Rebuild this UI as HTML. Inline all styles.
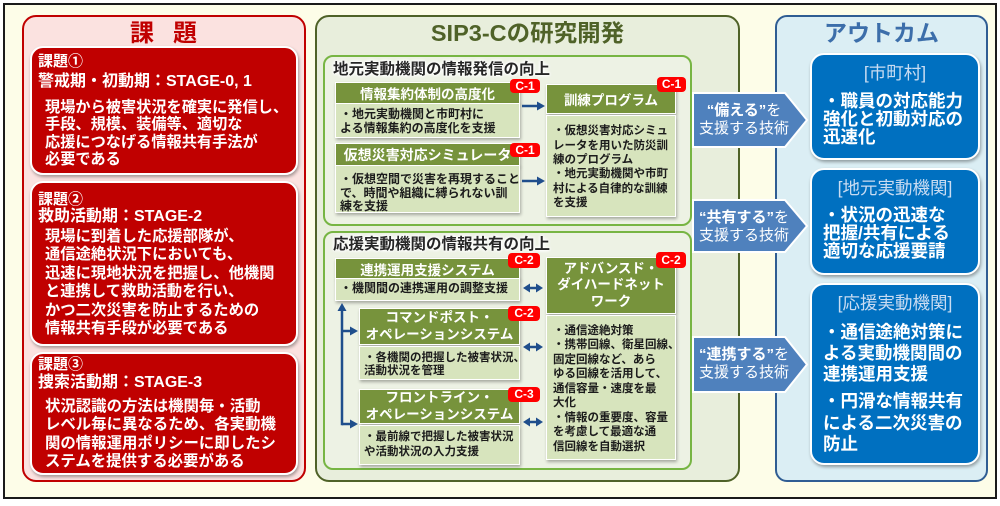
<!DOCTYPE html>
<html><head><meta charset="utf-8">
<style>
*{margin:0;padding:0;box-sizing:border-box}
body{width:1000px;height:506px;background:#fff;position:relative;overflow:hidden;font-family:"Liberation Sans","Noto Sans CJK JP",sans-serif;font-weight:bold}
.a{position:absolute}
.t{position:absolute;white-space:nowrap}
#outer{left:3px;top:3px;width:994px;height:496px;border:2px solid #1a1a1a;background:#fdfde8}
#lp{left:22px;top:15px;width:284px;height:467px;border:2px solid #c00000;border-radius:14px;background:#fbe2e0}
.rb{position:absolute;left:30px;width:268px;background:#c00000;border:2px solid #fff;border-radius:13px;box-shadow:1px 2px 3px rgba(0,0,0,.35)}
.rt{position:absolute;white-space:nowrap;color:#fff}
#mp{left:315px;top:15px;width:425px;height:467px;border:2px solid #4f6228;border-radius:14px;background:#e8eedc}
.sp{position:absolute;left:323px;width:369px;border:2.5px solid #77b543;border-radius:10px;background:#edf2e4}
.lbl{position:absolute;white-space:nowrap;font-size:15.5px;line-height:20px;color:#262626;text-shadow:0 0 2px #fff,0 0 3px #fff,0 0 4px #fff,0 0 4px #fff}
.gh{position:absolute;background:#77933c;border:1.5px solid #fff;color:#fff;font-size:13.5px;display:flex;align-items:center;justify-content:center;text-align:center;white-space:nowrap;box-shadow:1px 2px 3px rgba(0,0,0,.3)}
.gb{position:absolute;background:#d7e4bd;border:1.5px solid #fff;box-shadow:1px 2px 3px rgba(0,0,0,.3)}
.bt{position:absolute;white-space:nowrap;color:#1c1c1c;font-size:12px}
.bd{position:absolute;background:#ff0000;color:#fff;font-size:12px;border-radius:4px;text-align:center;font-family:"Liberation Sans",sans-serif}
#rp{left:775px;top:15px;width:213px;height:467px;border:2px solid #2f5d93;border-radius:12px;background:#dbeef4}
.bb{position:absolute;left:810px;width:170px;background:#0070c0;border:2.5px solid #fff;border-radius:14px;box-shadow:1px 2px 3px rgba(0,0,0,.35)}
.bh{position:absolute;left:810px;width:170px;text-align:center;color:#c9dcf2;font-weight:normal;font-size:17.5px;line-height:20px;white-space:nowrap}
.bx{position:absolute;left:823px;color:#fff;font-size:17.5px;white-space:nowrap}
.at{position:absolute;left:690px;width:108px;text-align:center;color:#fff;font-size:15px;line-height:18px;white-space:nowrap;font-weight:normal}
.at b{font-weight:bold}
</style></head>
<body>
<div id="outer" class="a"></div>

<!-- LEFT PANEL -->
<div id="lp" class="a"></div>
<div class="t" style="left:130px;top:20px;font-size:24px;line-height:28px;color:#c00000">課</div>
<div class="t" style="left:173px;top:20px;font-size:24px;line-height:28px;color:#c00000">題</div>

<div class="rb" style="top:46px;height:129px"></div>
<div class="rt" style="left:38px;top:53px;font-size:15px;line-height:18px">課題①</div>
<div class="rt" style="left:38px;top:72px;font-size:16px;line-height:20px">警戒期・初動期：STAGE-0, 1</div>
<div class="rt" style="left:45px;top:98.5px;font-size:15.2px;line-height:17.5px">現場から被害状況を確実に発信し、<br>手段、規模、装備等、適切な<br>応援につなげる情報共有手法が<br>必要である</div>

<div class="rb" style="top:181px;height:165px"></div>
<div class="rt" style="left:38px;top:191px;font-size:15px;line-height:18px">課題②</div>
<div class="rt" style="left:38px;top:207px;font-size:16px;line-height:20px">救助活動期：STAGE-2</div>
<div class="rt" style="left:45px;top:227.75px;font-size:15.3px;line-height:18.5px">現場に到着した応援部隊が、<br>通信途絶状況下においても、<br>迅速に現地状況を把握し、他機関<br>と連携して救助活動を行い、<br>かつ二次災害を防止するための<br>情報共有手段が必要である</div>

<div class="rb" style="top:352px;height:123px"></div>
<div class="rt" style="left:38px;top:356px;font-size:15px;line-height:18px">課題③</div>
<div class="rt" style="left:38px;top:373px;font-size:16px;line-height:20px">捜索活動期：STAGE-3</div>
<div class="rt" style="left:45px;top:398px;font-size:15.4px;line-height:18.3px">状況認識の方法は機関毎・活動<br>レベル毎に異なるため、各実動機<br>関の情報運用ポリシーに即したシ<br>ステムを提供する必要がある</div>

<!-- MIDDLE PANEL -->
<div id="mp" class="a"></div>
<div class="t" style="left:315px;top:19px;width:425px;text-align:center;font-size:23.5px;line-height:28px;color:#4f6228">SIP3-Cの研究開発</div>

<div class="sp" style="top:55px;height:171px"></div>
<div class="lbl" style="left:333px;top:60px">地元実動機関の情報発信の向上</div>

<div class="gh" style="left:335px;top:82px;width:185px;height:22px">情報集約体制の高度化</div>
<div class="gb" style="left:335px;top:103px;width:185px;height:35px"></div>
<div class="bt" style="left:340px;top:108.25px;line-height:13.5px">・地元実動機関と市町村に<br>よる情報集約の高度化を支援</div>
<div class="bd" style="left:510px;top:79px;width:30px;height:14px;line-height:14px">C-1</div>

<div class="gh" style="left:335px;top:143px;width:185px;height:23px;font-size:14px">仮想災害対応シミュレータ</div>
<div class="gb" style="left:335px;top:165px;width:185px;height:48px"></div>
<div class="bt" style="left:340px;top:173.25px;line-height:13.5px">・仮想空間で災害を再現すること<br>で、時間や組織に縛られない訓<br>練を支援</div>
<div class="bd" style="left:510px;top:143px;width:30px;height:14px;line-height:14px">C-1</div>

<div class="gh" style="left:546px;top:84px;width:130px;height:30px">訓練プログラム</div>
<div class="gb" style="left:546px;top:115px;width:130px;height:102px"></div>
<div class="bt" style="left:553px;top:124.35px;line-height:14.3px;font-size:11.5px">・仮想災害対応シミュ<br>レータを用いた防災訓<br>練のプログラム<br>・地元実動機関や市町<br>村による自律的な訓練<br>を支援</div>
<div class="bd" style="left:657px;top:77px;width:29px;height:15px;line-height:15px">C-1</div>

<div class="sp" style="top:231px;height:239px"></div>
<div class="lbl" style="left:333px;top:235px">応援実動機関の情報共有の向上</div>

<div class="gh" style="left:335px;top:258px;width:185px;height:21px">連携運用支援システム</div>
<div class="gb" style="left:335px;top:278px;width:185px;height:23px"></div>
<div class="bt" style="left:340px;top:281.5px;line-height:13.5px">・機関間の連携運用の調整支援</div>
<div class="bd" style="left:508px;top:253px;width:32px;height:15px;line-height:15px">C-2</div>

<div class="gh" style="left:359px;top:308px;width:161px;height:37px;line-height:16.7px">コマンドポスト・<br>オペレーションシステム</div>
<div class="gb" style="left:359px;top:346px;width:161px;height:34px"></div>
<div class="bt" style="left:364px;top:351.6px;line-height:13.4px;font-size:11.5px">・各機関の把握した被害状況、<br>活動状況を管理</div>
<div class="bd" style="left:508px;top:306px;width:32px;height:15px;line-height:15px">C-2</div>

<div class="gh" style="left:359px;top:389px;width:161px;height:35px;line-height:16.4px">フロントライン・<br>オペレーションシステム</div>
<div class="gb" style="left:359px;top:425px;width:161px;height:40px"></div>
<div class="bt" style="left:364px;top:430.1px;line-height:14.4px;font-size:11.5px">・最前線で把握した被害状況<br>や活動状況の入力支援</div>
<div class="bd" style="left:508px;top:387px;width:32px;height:15px;line-height:15px">C-3</div>

<div class="gh" style="left:546px;top:257px;width:130px;height:57px;line-height:16.5px">アドバンスド・<br>ダイハードネット<br>ワーク</div>
<div class="gb" style="left:546px;top:315px;width:130px;height:145px"></div>
<div class="bt" style="left:553px;top:323.75px;line-height:14.5px;font-size:11.5px">・通信途絶対策<br>・携帯回線、衛星回線、<br>固定回線など、あら<br>ゆる回線を活用して、<br>通信容量・速度を最<br>大化<br>・情報の重要度、容量<br>を考慮して最適な通<br>信回線を自動選択</div>
<div class="bd" style="left:656px;top:252px;width:30px;height:16px;line-height:16px">C-2</div>

<!-- RIGHT PANEL -->
<div id="rp" class="a"></div>
<div class="t" style="left:775px;top:19px;width:213px;text-align:center;font-size:23px;line-height:28px;color:#3c6eaa">アウトカム</div>

<div class="bb" style="top:53px;height:107px"></div>
<div class="bh" style="top:63px">[市町村]</div>
<div class="bx" style="top:92px;line-height:18px">・職員の対応能力<br>強化と初動対応の<br>迅速化</div>

<div class="bb" style="top:168px;height:107px"></div>
<div class="bh" style="top:178px">[地元実動機関]</div>
<div class="bx" style="top:206px;line-height:18px">・状況の迅速な<br>把握/共有による<br>適切な応援要請</div>

<div class="bb" style="top:283px;height:182px"></div>
<div class="bh" style="top:293px">[応援実動機関]</div>
<div class="bx" style="top:321.5px;line-height:21px">・通信途絶対策に<br>よる実動機関間の<br>連携運用支援</div>
<div class="bx" style="top:391px;line-height:21.5px">・円滑な情報共有<br>による二次災害の<br>防止</div>

<!-- ARROWS -->
<svg class="a" style="left:0;top:0" width="1000" height="506" viewBox="0 0 1000 506">
<g fill="#1f4e8c" stroke="none">
<rect x="522" y="104.75" width="16" height="2.5"/>
<polygon points="545,106 537,101.5 537,110.5"/>
<rect x="522" y="179.75" width="16" height="2.5"/>
<polygon points="545,181 537,176.5 537,185.5"/>
<!-- double arrows -->
<rect x="529" y="286.75" width="8" height="2.5"/>
<polygon points="523,288 530,283.5 530,292.5"/><polygon points="543,288 536,283.5 536,292.5"/>
<rect x="529" y="345.75" width="8" height="2.5"/>
<polygon points="523,347 530,342.5 530,351.5"/><polygon points="543,347 536,342.5 536,351.5"/>
<rect x="529" y="420.75" width="8" height="2.5"/>
<polygon points="523,422 530,417.5 530,426.5"/><polygon points="543,422 536,417.5 536,426.5"/>
<!-- vertical bracket -->
<rect x="340.75" y="310" width="2.5" height="115.25"/>
<polygon points="342,303 337.5,311 346.5,311"/>
<rect x="342" y="329.75" width="9" height="2.5"/>
<polygon points="358,331 350,326.5 350,335.5"/>
<rect x="342" y="422.75" width="9" height="2.5"/>
<polygon points="358,424 350,419.5 350,428.5"/>
</g>
<g fill="#4f81bd" stroke="#fff" stroke-width="2">
<polygon points="693,93 785,93 807,120 785,147 693,147"/>
<polygon points="693,200 785,200 807,226 785,252 693,252"/>
<polygon points="693,337 785,337 807,364.5 785,392 693,392"/>
</g>
</svg>

<div class="at" style="top:102px"><b>“備える”</b>を<br>支援する技術</div>
<div class="at" style="top:209px"><b>“共有する”</b>を<br>支援する技術</div>
<div class="at" style="top:346px"><b>“連携する”</b>を<br>支援する技術</div>

</body></html>
